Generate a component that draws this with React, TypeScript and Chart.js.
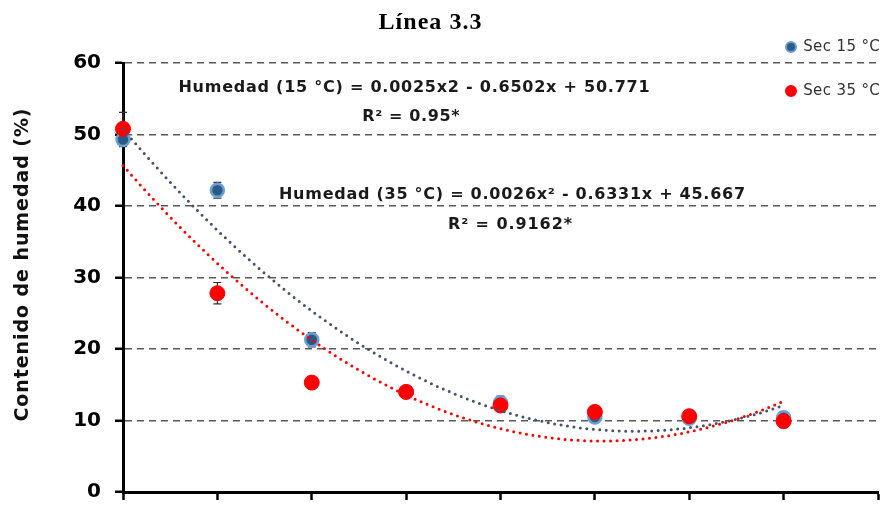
import { useEffect, useRef } from 'react';
import { Chart, registerables } from 'chart.js';
Chart.register(...registerables);

// Sampling time (hours) for each measurement
const xHours = [0, 24, 48, 72, 96, 120, 144, 168];
// Moisture content (%)
const sec15 = [49.3, 42.2, 21.3, 14.0, 12.5, 10.5, 10.3, 10.4];
const sec35 = [50.8, 27.8, 15.3, 14.0, 12.1, 11.2, 10.6, 9.9];
// Error bar half-heights
const err15 = [1.0, 1.1, 1.0, 0.6, 0.9, 0.7, 0.6, 0.8];
const err35 = [2.3, 1.5, 0.5, 0.6, 0.7, 0.6, 0.5, 0.6];
// Printed trendline coefficients [c0, c1, c2]
const fit15 = [50.771, -0.6502, 0.0025];
const fit35 = [45.667, -0.6331, 0.0026];
const yTicks = [0, 10, 20, 30, 40, 50, 60];

const seriesNames = ['Sec 15 °C', 'Sec 35 °C'];
const eqTexts = [
  'Humedad (15 °C) = 0.0025x2 - 0.6502x + 50.771',
  'R² = 0.95*',
  'Humedad (35 °C) = 0.0026x² - 0.6331x + 45.667',
  'R² = 0.9162*',
];

function curve(c: number[]) {
  const pts: { x: number; y: number }[] = [];
  for (let x = 0; x <= 168; x += 2) pts.push({ x, y: c[0] + c[1] * x + c[2] * x * x });
  return pts;
}

function fitText(ctx: any, text: string, cx: number, cy: number, target: number) {
  ctx.letterSpacing = '0px';
  const w = ctx.measureText(text).width;
  const sp = (target - w) / Math.max(1, text.length);
  ctx.letterSpacing = sp.toFixed(2) + 'px';
  ctx.textAlign = 'left';
  const w2 = ctx.measureText(text).width;
  ctx.fillText(text, cx - w2 / 2 + sp / 2, cy);
  ctx.letterSpacing = '0px';
}

const BLUE_FILL = '#2C5A87';
const BLUE_EDGE = '#6B9FD3';
const RED = '#FF0000';
const SANS = '"DejaVu Sans"';

export default function App() {
  const ref = useRef<HTMLCanvasElement>(null);
  useEffect(() => {
    const errPlugin = {
      id: 'errbars',
      beforeDatasetsDraw(chart: any) {
        const { ctx, scales } = chart;
        const xs = scales.x, ys = scales.y;
        ctx.save();
        ctx.strokeStyle = '#333';
        ctx.lineWidth = 1.2;
        const sets = [[sec15, err15], [sec35, err35]];
        sets.forEach(([vals, errs]) => {
          vals.forEach((v: number, j: number) => {
            const px = xs.getPixelForValue(xHours[j]);
            const t = ys.getPixelForValue(v + errs[j]);
            const b = ys.getPixelForValue(v - errs[j]);
            ctx.beginPath();
            ctx.moveTo(px, t); ctx.lineTo(px, b);
            ctx.moveTo(px - 4, t); ctx.lineTo(px + 4, t);
            ctx.moveTo(px - 4, b); ctx.lineTo(px + 4, b);
            ctx.stroke();
          });
        });
        ctx.restore();
      },
    };
    const textPlugin = {
      id: 'texts',
      afterDraw(chart: any) {
        const ctx = chart.ctx;
        ctx.save();
        ctx.textBaseline = 'middle';
        ctx.fillStyle = '#000';
        ctx.font = 'bold 24px "Liberation Serif"';
        fitText(ctx, 'Línea 3.3', 430, 23, 104);

        ctx.fillStyle = '#1a1a1a';
        ctx.font = 'bold 16px ' + SANS;
        fitText(ctx, eqTexts[0], 414, 88, 472);
        fitText(ctx, eqTexts[1], 411, 117, 98);
        fitText(ctx, eqTexts[2], 512, 195, 467);
        fitText(ctx, eqTexts[3], 510, 225, 125);

        // y title
        ctx.save();
        ctx.translate(23, 265);
        ctx.rotate(-Math.PI / 2);
        ctx.font = 'bold 19px ' + SANS;
        ctx.fillStyle = '#111';
        fitText(ctx, 'Contenido de humedad (%)', 0, 0, 314);
        ctx.restore();

        // legend
        const items = [
          { y: 47, fill: BLUE_FILL, edge: BLUE_EDGE },
          { y: 91, fill: RED, edge: RED },
        ];
        items.forEach((it, i) => {
          ctx.beginPath();
          ctx.arc(791, it.y, 5, 0, Math.PI * 2);
          ctx.fillStyle = it.fill;
          ctx.fill();
          ctx.lineWidth = 2;
          ctx.strokeStyle = it.edge;
          ctx.stroke();
          ctx.fillStyle = '#333';
          ctx.font = '15px ' + SANS;
          fitText(ctx, seriesNames[i], 841.5, it.y, 77);
        });
        ctx.restore();
      },
    };

    const chart = new Chart(ref.current as HTMLCanvasElement, {
      type: 'scatter',
      data: {
        datasets: [
          {
            label: seriesNames[0],
            data: xHours.map((x, i) => ({ x, y: sec15[i] })),
            pointRadius: 6.5,
            pointBackgroundColor: BLUE_FILL,
            pointBorderColor: BLUE_EDGE,
            pointBorderWidth: 2.5,
            showLine: false,
            clip: false,
            order: 4,
          } as any,
          {
            label: seriesNames[1],
            data: xHours.map((x, i) => ({ x, y: sec35[i] })),
            pointRadius: 7.5,
            pointBackgroundColor: RED,
            pointBorderColor: RED,
            pointBorderWidth: 1,
            showLine: false,
            clip: false,
            order: 3,
          } as any,
          {
            type: 'line',
            label: 'trend15',
            data: curve(fit15),
            borderColor: '#44546A',
            borderWidth: 3,
            borderDash: [0, 6.5],
            borderCapStyle: 'round',
            pointRadius: 0,
            tension: 0,
            fill: false,
            clip: false,
            order: 2,
          } as any,
          {
            type: 'line',
            label: 'trend35',
            data: curve(fit35),
            borderColor: RED,
            borderWidth: 3,
            borderDash: [0, 6.5],
            borderCapStyle: 'round',
            pointRadius: 0,
            tension: 0,
            fill: false,
            clip: false,
            order: 1,
          } as any,
        ],
      },
      options: {
        responsive: false,
        animation: false,
        events: [],
        layout: { padding: { top: 63, right: 10, left: 0, bottom: 0 } },
        plugins: { legend: { display: false }, tooltip: { enabled: false }, title: { display: false } },
        scales: {
          x: {
            type: 'linear',
            min: 0,
            max: 192,
            ticks: { stepSize: 24, callback: () => '' },
            grid: { drawOnChartArea: false, drawTicks: true, tickLength: 8, tickColor: '#000', tickWidth: 2.5 },
            border: { display: true, color: '#000', width: 3 },
            afterFit: (s: any) => { s.height = 14; s.paddingLeft = 0; s.paddingRight = 0; },
          },
          y: {
            min: 0,
            max: 60,
            afterBuildTicks: (s: any) => { s.ticks = yTicks.map((v) => ({ value: v })); },
            ticks: { font: { family: 'DejaVu Sans', weight: 'bold', size: 20 }, color: '#000', padding: 14 },
            grid: { color: '#595959', lineWidth: 1.5, tickLength: 8, tickColor: '#000', tickWidth: 2.5, tickBorderDash: [] },
            border: { display: true, color: '#000', width: 3, dash: [7, 5] },
            afterFit: (s: any) => { s.width = 123; s.paddingTop = 0; s.paddingBottom = 0; },
          },
        },
      } as any,
      plugins: [errPlugin, textPlugin],
    });
    return () => chart.destroy();
  }, []);
  return (
    <div style={{ position: 'fixed', left: 0, top: 0, width: 888, height: 506, background: '#fff' }}>
      <canvas ref={ref} width={888} height={506} style={{ width: 888, height: 506 }} />
    </div>
  );
}
